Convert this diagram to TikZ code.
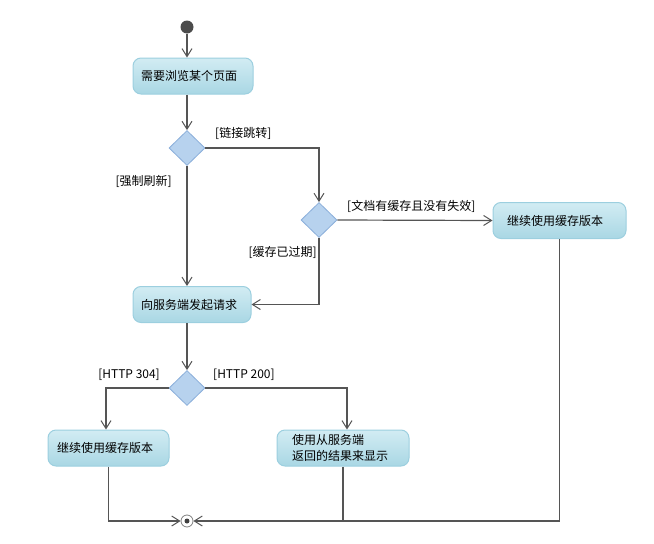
\documentclass[tikz,border=0pt]{standalone}
\usepackage{fontspec}
\setmainfont{Noto Sans CJK SC}
\usetikzlibrary{shapes.geometric,arrows.meta}
\definecolor{boxtop}{HTML}{D2ECF3}
\definecolor{boxbot}{HTML}{A9D7E4}
\definecolor{boxline}{HTML}{9CCFDF}
\definecolor{diafill}{HTML}{B7D2EE}
\definecolor{dialine}{HTML}{8AAEDA}
\definecolor{flow}{HTML}{555555}
\tikzset{
  actbox/.style={rounded corners=8pt, draw=boxline, line width=1pt, top color=boxtop, bottom color=boxbot,
    minimum height=36pt, align=left, inner ysep=0pt, font=\fontsize{12}{15}\selectfont},
  decision/.style={diamond, draw=dialine, fill=diafill, line width=0.8pt, minimum width=36pt, minimum height=35pt, inner sep=0pt},
  guard/.style={font=\fontsize{12}{14}\selectfont, inner sep=0pt},
  flowline/.style={draw=flow, line width=1.2pt, -{Straight Barb[length=8pt,width=10pt,line width=1pt]}},
  plainline/.style={draw=flow, line width=1.2pt},
}
\begin{document}
\begin{tikzpicture}[x=1pt,y=-1pt]
\useasboundingbox (0,0) rectangle (654,544);
\node[circle, fill=black!70, inner sep=0pt, minimum size=13pt] (start) at (187,27) {};
\node[actbox, minimum width=120pt, inner xsep=8pt, text width=104pt] (b1) at (193,76) {需要浏览某个页面};
\node[decision] (d1) at (187,148) {};
\node[decision] (d2) at (319,220) {};
\node[actbox, minimum width=133pt, inner xsep=14pt, text width=105pt] (rb) at (559.5,220.5) {继续使用缓存版本};
\node[actbox, minimum width=118pt, inner xsep=8pt, text width=102pt] (b2) at (192,304.5) {向服务端发起请求};
\node[decision] (d3) at (187,388) {};
\node[actbox, minimum width=121pt, inner xsep=9pt, text width=103pt] (bl) at (108.5,448) {继续使用缓存版本};
\node[actbox, minimum width=132pt, inner xsep=15pt, text width=102pt, font=\fontsize{12}{16}\selectfont] (br) at (343,448) {使用从服务端\\返回的结果来显示};
\node[circle, draw=black!50, fill=white, line width=0.8pt, inner sep=0pt, minimum size=12pt] (end) at (187,521) {};
\node[circle, fill=black!75, inner sep=0pt, minimum size=5pt] (enddot) at (end) {};

\node[guard, anchor=west] (g1) at (215,133) {[链接跳转]};
\node[guard, anchor=east] (g2) at (172,181) {[强制刷新]};
\node[guard, anchor=west] (g3) at (347,206) {[文档有缓存且没有失效]};
\node[guard, anchor=east] (g4) at (317,252) {[缓存已过期]};
\node[guard, anchor=east] (g5) at (160,375) {[HTTP 304]};
\node[guard, anchor=west] (g6) at (213,375) {[HTTP 200]};

\draw[flowline] (start) -- (start |- b1.north);
\draw[flowline] (b1.south -| d1) -- (d1.north);
\draw[flowline] (d1.east) -| (d2.north);
\draw[flowline] (d1.south) -- (d1 |- b2.north);
\draw[flowline] (d2.east) -- (rb.west);
\draw[flowline] (d2.south) |- (b2.east);
\draw[flowline] (b2.south -| d3) -- (d3.north);
\draw[flowline] (d3.west) -| ([xshift=-2.5pt]bl.north);
\draw[flowline] (d3.east) -| ([xshift=4pt]br.north);
\draw[flowline] (bl.south) |- (end.west);
\draw[plainline] (br.south) -- (br.south |- end);
\draw[flowline] (rb.south) |- (end.east);
\end{tikzpicture}
\end{document}
